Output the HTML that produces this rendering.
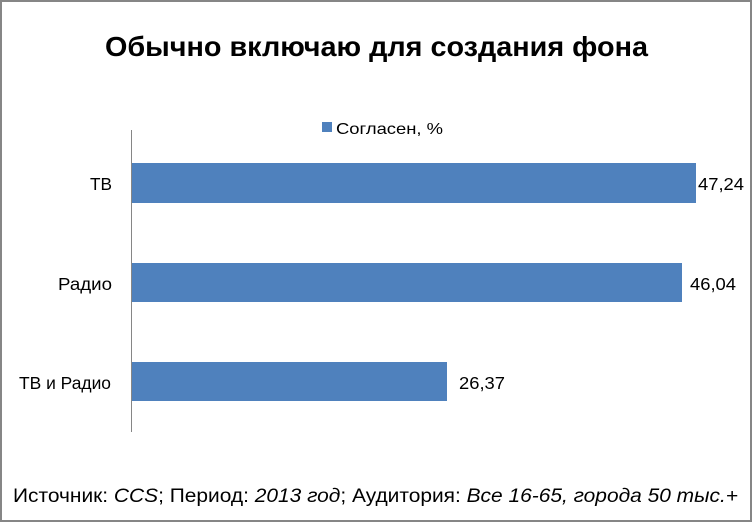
<!DOCTYPE html>
<html><head><meta charset="utf-8"><style>html,body{margin:0;padding:0;background:#fff}</style></head>
<body>
<svg width="753" height="523" xmlns="http://www.w3.org/2000/svg" font-family="Liberation Sans, sans-serif">
<rect x="1" y="1" width="750" height="520" fill="#fff" stroke="#868686" stroke-width="2"/>
<text x="105" y="56" font-size="28" font-weight="bold" textLength="543" lengthAdjust="spacingAndGlyphs" fill="#000">Обычно включаю для создания фона</text>
<rect x="322" y="122" width="10" height="10" fill="#4f81bd"/>
<text x="336" y="134" font-size="16" textLength="107" lengthAdjust="spacingAndGlyphs">Согласен, %</text>
<line x1="131.5" y1="130" x2="131.5" y2="432" stroke="#868686" stroke-width="1"/>
<rect x="132" y="163" width="564" height="40" fill="#4f81bd"/>
<rect x="132" y="263" width="550" height="39" fill="#4f81bd"/>
<rect x="132" y="362" width="315" height="39" fill="#4f81bd"/>
<g font-size="17.5" fill="#000">
<text x="112" y="190" text-anchor="end" textLength="22" lengthAdjust="spacingAndGlyphs">ТВ</text>
<text x="112" y="290" text-anchor="end" textLength="54" lengthAdjust="spacingAndGlyphs">Радио</text>
<text x="111" y="389" text-anchor="end" textLength="92" lengthAdjust="spacingAndGlyphs">ТВ и Радио</text>
<text x="698" y="190" textLength="46" lengthAdjust="spacingAndGlyphs">47,24</text>
<text x="690" y="290" textLength="46" lengthAdjust="spacingAndGlyphs">46,04</text>
<text x="459" y="389" textLength="46" lengthAdjust="spacingAndGlyphs">26,37</text>
</g>
<text x="13" y="502" font-size="19" textLength="725" lengthAdjust="spacingAndGlyphs">Источник:  <tspan font-style="italic">CCS</tspan>; Период:  <tspan font-style="italic">2013 год</tspan>; Аудитория: <tspan font-style="italic">Все 16-65, города 50 тыс.+</tspan></text>
</svg>
</body></html>
